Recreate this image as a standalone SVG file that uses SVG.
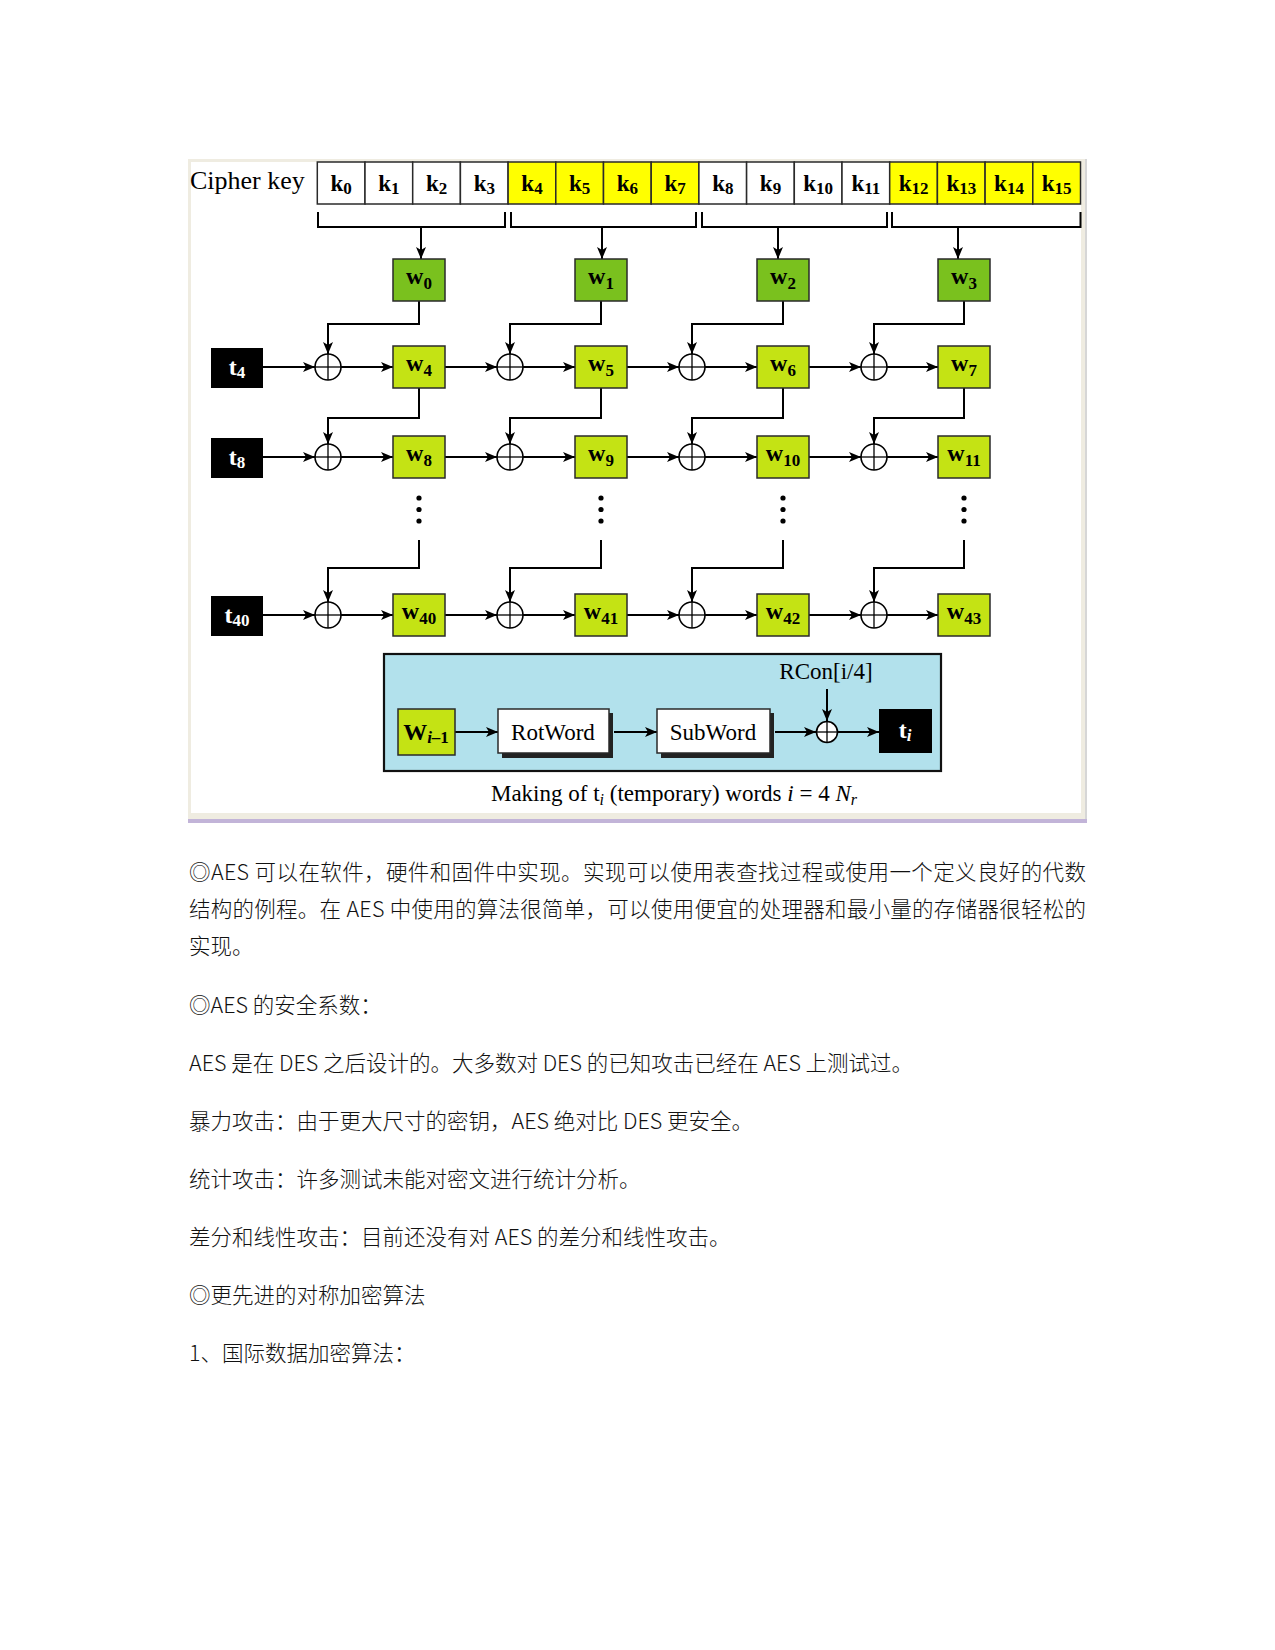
<svg xmlns="http://www.w3.org/2000/svg" width="1275" height="1650" viewBox="0 0 1275 1650">
<style>
.bx{stroke:#2a2a2a;stroke-width:1.5}
.ln{stroke:#000;stroke-width:2;fill:none}
.ar{stroke:#000;stroke-width:2;fill:none;marker-end:url(#ah)}
.xo{stroke:#000;stroke-width:1.6;fill:#fff}
.xl{stroke:#000;stroke-width:1.3}
.kt{font-family:'Liberation Serif',serif;font-weight:bold;font-size:23px;fill:#000;text-anchor:middle}
.wt{font-family:'Liberation Serif',serif;font-weight:bold;font-size:24px;fill:#000;text-anchor:middle}
.tt{font-family:'Liberation Serif',serif;font-weight:bold;font-size:24px;fill:#fff;text-anchor:middle}
.sb{font-size:17px}
.sr{font-family:'Liberation Serif',serif;font-size:23px;fill:#000;text-anchor:middle}
.cn{font-family:'Noto Sans CJK SC','Liberation Sans',sans-serif;font-weight:300;font-size:21.5px;fill:#111}
.dg{fill:#7ac11e}
.lg{fill:#c4e314}
.yl{fill:#ffff00}
.wh{fill:#fff}
.bk{fill:#000}
</style>
<defs>
<marker id="ah" markerUnits="userSpaceOnUse" markerWidth="13" markerHeight="10" refX="12" refY="5" orient="auto">
<path d="M0,0 L12,5 L0,10 L3,5 z" fill="#000"/>
</marker>
<g id="xor"><circle class="xo" cx="0" cy="0" r="13"/><line class="xl" x1="-13" y1="0" x2="13" y2="0"/><line class="xl" x1="0" y1="-13" x2="0" y2="13"/></g>
</defs>
<rect x="0" y="0" width="1275" height="1650" fill="#fff"/>
<!-- frame -->
<g id="frame">
<rect x="188" y="159" width="898" height="660" fill="#efece1"/>
<rect x="191" y="162" width="890" height="651" fill="#fff"/>
<line x1="1086" y1="159" x2="1086" y2="819" stroke="#d6d6d6" stroke-width="2"/>
<rect x="188" y="819" width="899" height="4" fill="#c2b4d8"/>
</g>
<!-- cipher key -->
<g id="cipher-key">
<text x="190" y="189" font-family="'Liberation Serif',serif" font-size="26" fill="#000">Cipher key</text>
<rect class="bx wh" x="317.3" y="162" width="47.7" height="42"/>
<rect class="bx wh" x="365" y="162" width="47.7" height="42"/>
<rect class="bx wh" x="412.7" y="162" width="47.7" height="42"/>
<rect class="bx wh" x="460.4" y="162" width="47.7" height="42"/>
<rect class="bx yl" x="508.1" y="162" width="47.7" height="42"/>
<rect class="bx yl" x="555.8" y="162" width="47.7" height="42"/>
<rect class="bx yl" x="603.5" y="162" width="47.7" height="42"/>
<rect class="bx yl" x="651.2" y="162" width="47.7" height="42"/>
<rect class="bx wh" x="698.9" y="162" width="47.7" height="42"/>
<rect class="bx wh" x="746.6" y="162" width="47.7" height="42"/>
<rect class="bx wh" x="794.3" y="162" width="47.7" height="42"/>
<rect class="bx wh" x="842" y="162" width="47.7" height="42"/>
<rect class="bx yl" x="889.7" y="162" width="47.7" height="42"/>
<rect class="bx yl" x="937.4" y="162" width="47.7" height="42"/>
<rect class="bx yl" x="985.1" y="162" width="47.7" height="42"/>
<rect class="bx yl" x="1032.8" y="162" width="47.7" height="42"/>
<text class="kt" x="341.2" y="191">k<tspan class="sb" dy="3">0</tspan></text>
<text class="kt" x="388.9" y="191">k<tspan class="sb" dy="3">1</tspan></text>
<text class="kt" x="436.6" y="191">k<tspan class="sb" dy="3">2</tspan></text>
<text class="kt" x="484.3" y="191">k<tspan class="sb" dy="3">3</tspan></text>
<text class="kt" x="532" y="191">k<tspan class="sb" dy="3">4</tspan></text>
<text class="kt" x="579.7" y="191">k<tspan class="sb" dy="3">5</tspan></text>
<text class="kt" x="627.4" y="191">k<tspan class="sb" dy="3">6</tspan></text>
<text class="kt" x="675.1" y="191">k<tspan class="sb" dy="3">7</tspan></text>
<text class="kt" x="722.8" y="191">k<tspan class="sb" dy="3">8</tspan></text>
<text class="kt" x="770.5" y="191">k<tspan class="sb" dy="3">9</tspan></text>
<text class="kt" x="818.2" y="191">k<tspan class="sb" dy="3">10</tspan></text>
<text class="kt" x="865.9" y="191">k<tspan class="sb" dy="3">11</tspan></text>
<text class="kt" x="913.6" y="191">k<tspan class="sb" dy="3">12</tspan></text>
<text class="kt" x="961.3" y="191">k<tspan class="sb" dy="3">13</tspan></text>
<text class="kt" x="1009" y="191">k<tspan class="sb" dy="3">14</tspan></text>
<text class="kt" x="1056.7" y="191">k<tspan class="sb" dy="3">15</tspan></text>
</g>
<!-- brackets -->
<g id="brackets">
<path class="ln" d="M318,212 V227 H505 V212" stroke-width="1.3"/>
<path class="ln" d="M511,212 V227 H696 V212" stroke-width="1.3"/>
<path class="ln" d="M702,212 V227 H887 V212" stroke-width="1.3"/>
<path class="ln" d="M892,212 V227 H1080.5 V212" stroke-width="1.3"/>
</g>
<!-- bottom box background -->
<g id="tbox">
<rect x="384" y="654" width="557" height="117" fill="#b2e1ec" stroke="#111" stroke-width="2.2"/>
</g>
<!-- connectors -->
<g id="connectors">
<line class="ar" x1="421" y1="227" x2="421" y2="259"/>
<line class="ar" x1="602" y1="227" x2="602" y2="259"/>
<line class="ar" x1="778" y1="227" x2="778" y2="259"/>
<line class="ar" x1="958" y1="227" x2="958" y2="259"/>
<path class="ar" d="M419,301 V324 H328 V354"/>
<path class="ar" d="M601,301 V324 H510 V354"/>
<path class="ar" d="M783,301 V324 H692 V354"/>
<path class="ar" d="M964,301 V324 H874 V354"/>
<path class="ar" d="M419,388 V418 H328 V444"/>
<path class="ar" d="M601,388 V418 H510 V444"/>
<path class="ar" d="M783,388 V418 H692 V444"/>
<path class="ar" d="M964,388 V418 H874 V444"/>
<path class="ar" d="M419,540 V568 H328 V602"/>
<path class="ar" d="M601,540 V568 H510 V602"/>
<path class="ar" d="M783,540 V568 H692 V602"/>
<path class="ar" d="M964,540 V568 H874 V602"/>
<line class="ar" x1="263" y1="367" x2="315" y2="367"/>
<line class="ar" x1="341" y1="367" x2="393" y2="367"/>
<line class="ar" x1="445" y1="367" x2="497" y2="367"/>
<line class="ar" x1="523" y1="367" x2="575" y2="367"/>
<line class="ar" x1="627" y1="367" x2="679" y2="367"/>
<line class="ar" x1="705" y1="367" x2="757" y2="367"/>
<line class="ar" x1="809" y1="367" x2="861" y2="367"/>
<line class="ar" x1="887" y1="367" x2="938" y2="367"/>
<line class="ar" x1="263" y1="457" x2="315" y2="457"/>
<line class="ar" x1="341" y1="457" x2="393" y2="457"/>
<line class="ar" x1="445" y1="457" x2="497" y2="457"/>
<line class="ar" x1="523" y1="457" x2="575" y2="457"/>
<line class="ar" x1="627" y1="457" x2="679" y2="457"/>
<line class="ar" x1="705" y1="457" x2="757" y2="457"/>
<line class="ar" x1="809" y1="457" x2="861" y2="457"/>
<line class="ar" x1="887" y1="457" x2="938" y2="457"/>
<line class="ar" x1="263" y1="615" x2="315" y2="615"/>
<line class="ar" x1="341" y1="615" x2="393" y2="615"/>
<line class="ar" x1="445" y1="615" x2="497" y2="615"/>
<line class="ar" x1="523" y1="615" x2="575" y2="615"/>
<line class="ar" x1="627" y1="615" x2="679" y2="615"/>
<line class="ar" x1="705" y1="615" x2="757" y2="615"/>
<line class="ar" x1="809" y1="615" x2="861" y2="615"/>
<line class="ar" x1="887" y1="615" x2="938" y2="615"/>
<line class="ar" x1="455" y1="732" x2="498" y2="732"/>
<line class="ar" x1="614" y1="732" x2="657" y2="732"/>
<line class="ar" x1="775" y1="732" x2="816" y2="732"/>
<line class="ar" x1="837" y1="732" x2="879" y2="732"/>
<line class="ar" x1="827" y1="689" x2="827" y2="721"/>
</g>
<!-- dots -->
<g id="dots" fill="#000">
<circle cx="419" cy="498" r="2.6"/><circle cx="419" cy="509.5" r="2.6"/><circle cx="419" cy="521" r="2.6"/>
<circle cx="601" cy="498" r="2.6"/><circle cx="601" cy="509.5" r="2.6"/><circle cx="601" cy="521" r="2.6"/>
<circle cx="783" cy="498" r="2.6"/><circle cx="783" cy="509.5" r="2.6"/><circle cx="783" cy="521" r="2.6"/>
<circle cx="964" cy="498" r="2.6"/><circle cx="964" cy="509.5" r="2.6"/><circle cx="964" cy="521" r="2.6"/>
</g>
<!-- row 0 -->
<g id="w0"><rect class="bx dg" x="393" y="259" width="52" height="42"/><text class="wt" x="419" y="284">w<tspan class="sb" dy="5">0</tspan></text></g>
<g id="w1"><rect class="bx dg" x="575" y="259" width="52" height="42"/><text class="wt" x="601" y="284">w<tspan class="sb" dy="5">1</tspan></text></g>
<g id="w2"><rect class="bx dg" x="757" y="259" width="52" height="42"/><text class="wt" x="783" y="284">w<tspan class="sb" dy="5">2</tspan></text></g>
<g id="w3"><rect class="bx dg" x="938" y="259" width="52" height="42"/><text class="wt" x="964" y="284">w<tspan class="sb" dy="5">3</tspan></text></g>
<!-- row 1 -->
<g id="t4"><rect class="bk" x="211" y="348" width="52" height="40"/><text class="tt" x="237" y="375">t<tspan class="sb" dy="3">4</tspan></text></g>
<g id="x1a"><use href="#xor" x="328" y="367"/></g>
<g id="x1b"><use href="#xor" x="510" y="367"/></g>
<g id="x1c"><use href="#xor" x="692" y="367"/></g>
<g id="x1d"><use href="#xor" x="874" y="367"/></g>
<g id="w4"><rect class="bx lg" x="393" y="346" width="52" height="42"/><text class="wt" x="419" y="371">w<tspan class="sb" dy="5">4</tspan></text></g>
<g id="w5"><rect class="bx lg" x="575" y="346" width="52" height="42"/><text class="wt" x="601" y="371">w<tspan class="sb" dy="5">5</tspan></text></g>
<g id="w6"><rect class="bx lg" x="757" y="346" width="52" height="42"/><text class="wt" x="783" y="371">w<tspan class="sb" dy="5">6</tspan></text></g>
<g id="w7"><rect class="bx lg" x="938" y="346" width="52" height="42"/><text class="wt" x="964" y="371">w<tspan class="sb" dy="5">7</tspan></text></g>
<!-- row 2 -->
<g id="t8"><rect class="bk" x="211" y="438" width="52" height="40"/><text class="tt" x="237" y="465">t<tspan class="sb" dy="3">8</tspan></text></g>
<g id="x2a"><use href="#xor" x="328" y="457"/></g>
<g id="x2b"><use href="#xor" x="510" y="457"/></g>
<g id="x2c"><use href="#xor" x="692" y="457"/></g>
<g id="x2d"><use href="#xor" x="874" y="457"/></g>
<g id="w8"><rect class="bx lg" x="393" y="436" width="52" height="42"/><text class="wt" x="419" y="461">w<tspan class="sb" dy="5">8</tspan></text></g>
<g id="w9"><rect class="bx lg" x="575" y="436" width="52" height="42"/><text class="wt" x="601" y="461">w<tspan class="sb" dy="5">9</tspan></text></g>
<g id="w10"><rect class="bx lg" x="757" y="436" width="52" height="42"/><text class="wt" x="783" y="461">w<tspan class="sb" dy="5">10</tspan></text></g>
<g id="w11"><rect class="bx lg" x="938" y="436" width="52" height="42"/><text class="wt" x="964" y="461">w<tspan class="sb" dy="5">11</tspan></text></g>
<!-- row 3 -->
<g id="t40"><rect class="bk" x="211" y="596" width="52" height="40"/><text class="tt" x="237" y="623">t<tspan class="sb" dy="3">40</tspan></text></g>
<g id="x3a"><use href="#xor" x="328" y="615"/></g>
<g id="x3b"><use href="#xor" x="510" y="615"/></g>
<g id="x3c"><use href="#xor" x="692" y="615"/></g>
<g id="x3d"><use href="#xor" x="874" y="615"/></g>
<g id="w40"><rect class="bx lg" x="393" y="594" width="52" height="42"/><text class="wt" x="419" y="619">w<tspan class="sb" dy="5">40</tspan></text></g>
<g id="w41"><rect class="bx lg" x="575" y="594" width="52" height="42"/><text class="wt" x="601" y="619">w<tspan class="sb" dy="5">41</tspan></text></g>
<g id="w42"><rect class="bx lg" x="757" y="594" width="52" height="42"/><text class="wt" x="783" y="619">w<tspan class="sb" dy="5">42</tspan></text></g>
<g id="w43"><rect class="bx lg" x="938" y="594" width="52" height="42"/><text class="wt" x="964" y="619">w<tspan class="sb" dy="5">43</tspan></text></g>
<!-- bottom box nodes -->
<g id="wi1"><rect class="bx lg" x="398" y="709" width="57" height="46"/><text class="wt" x="426" y="740" font-size="24">W<tspan class="sb" dy="3" font-style="italic">i</tspan><tspan class="sb" dy="0">–1</tspan></text></g>
<g id="rotword"><rect x="502" y="713" width="111" height="45" fill="#222"/><rect class="bx wh" x="498" y="709" width="111" height="44"/><text class="sr" x="553" y="740">RotWord</text></g>
<g id="subword"><rect x="661" y="713" width="113" height="45" fill="#222"/><rect class="bx wh" x="657" y="709" width="113" height="44"/><text class="sr" x="713" y="740">SubWord</text></g>
<g id="xb"><circle class="xo" cx="827" cy="732" r="10.5"/><line class="xl" x1="816.5" y1="732" x2="837.5" y2="732"/><line class="xl" x1="827" y1="721.5" x2="827" y2="742.5"/></g>
<g id="rcon"><text class="sr" x="826" y="679" font-size="22.5">RCon[i/4]</text></g>
<g id="ti"><rect class="bk" x="879" y="709" width="53" height="44"/><text class="tt" x="905" y="738">t<tspan class="sb" dy="3" font-style="italic">i</tspan></text></g>
<g id="caption"><text class="sr" x="674" y="801" font-size="23.5">Making of t<tspan font-size="16" font-style="italic" dy="4">i</tspan><tspan dy="-4"> (temporary) words </tspan><tspan font-style="italic">i</tspan> = 4 <tspan font-style="italic">N</tspan><tspan font-size="16" font-style="italic" dy="4">r</tspan></text></g>
<!-- paragraphs -->
<g id="text">
<text class="cn" x="189" y="880" textLength="897" lengthAdjust="spacing">◎AES 可以在软件，硬件和固件中实现。实现可以使用表查找过程或使用一个定义良好的代数</text>
<text class="cn" x="189" y="917" textLength="897" lengthAdjust="spacing">结构的例程。在 AES 中使用的算法很简单，可以使用便宜的处理器和最小量的存储器很轻松的</text>
<text class="cn" x="189" y="954">实现。</text>
<text class="cn" x="189" y="1013">◎AES 的安全系数：</text>
<text class="cn" x="189" y="1071">AES 是在 DES 之后设计的。大多数对 DES 的已知攻击已经在 AES 上测试过。</text>
<text class="cn" x="189" y="1129">暴力攻击：由于更大尺寸的密钥，AES 绝对比 DES 更安全。</text>
<text class="cn" x="189" y="1187">统计攻击：许多测试未能对密文进行统计分析。</text>
<text class="cn" x="189" y="1245">差分和线性攻击：目前还没有对 AES 的差分和线性攻击。</text>
<text class="cn" x="189" y="1303">◎更先进的对称加密算法</text>
<text class="cn" x="189" y="1361">1、国际数据加密算法：</text>
</g>
</svg>
